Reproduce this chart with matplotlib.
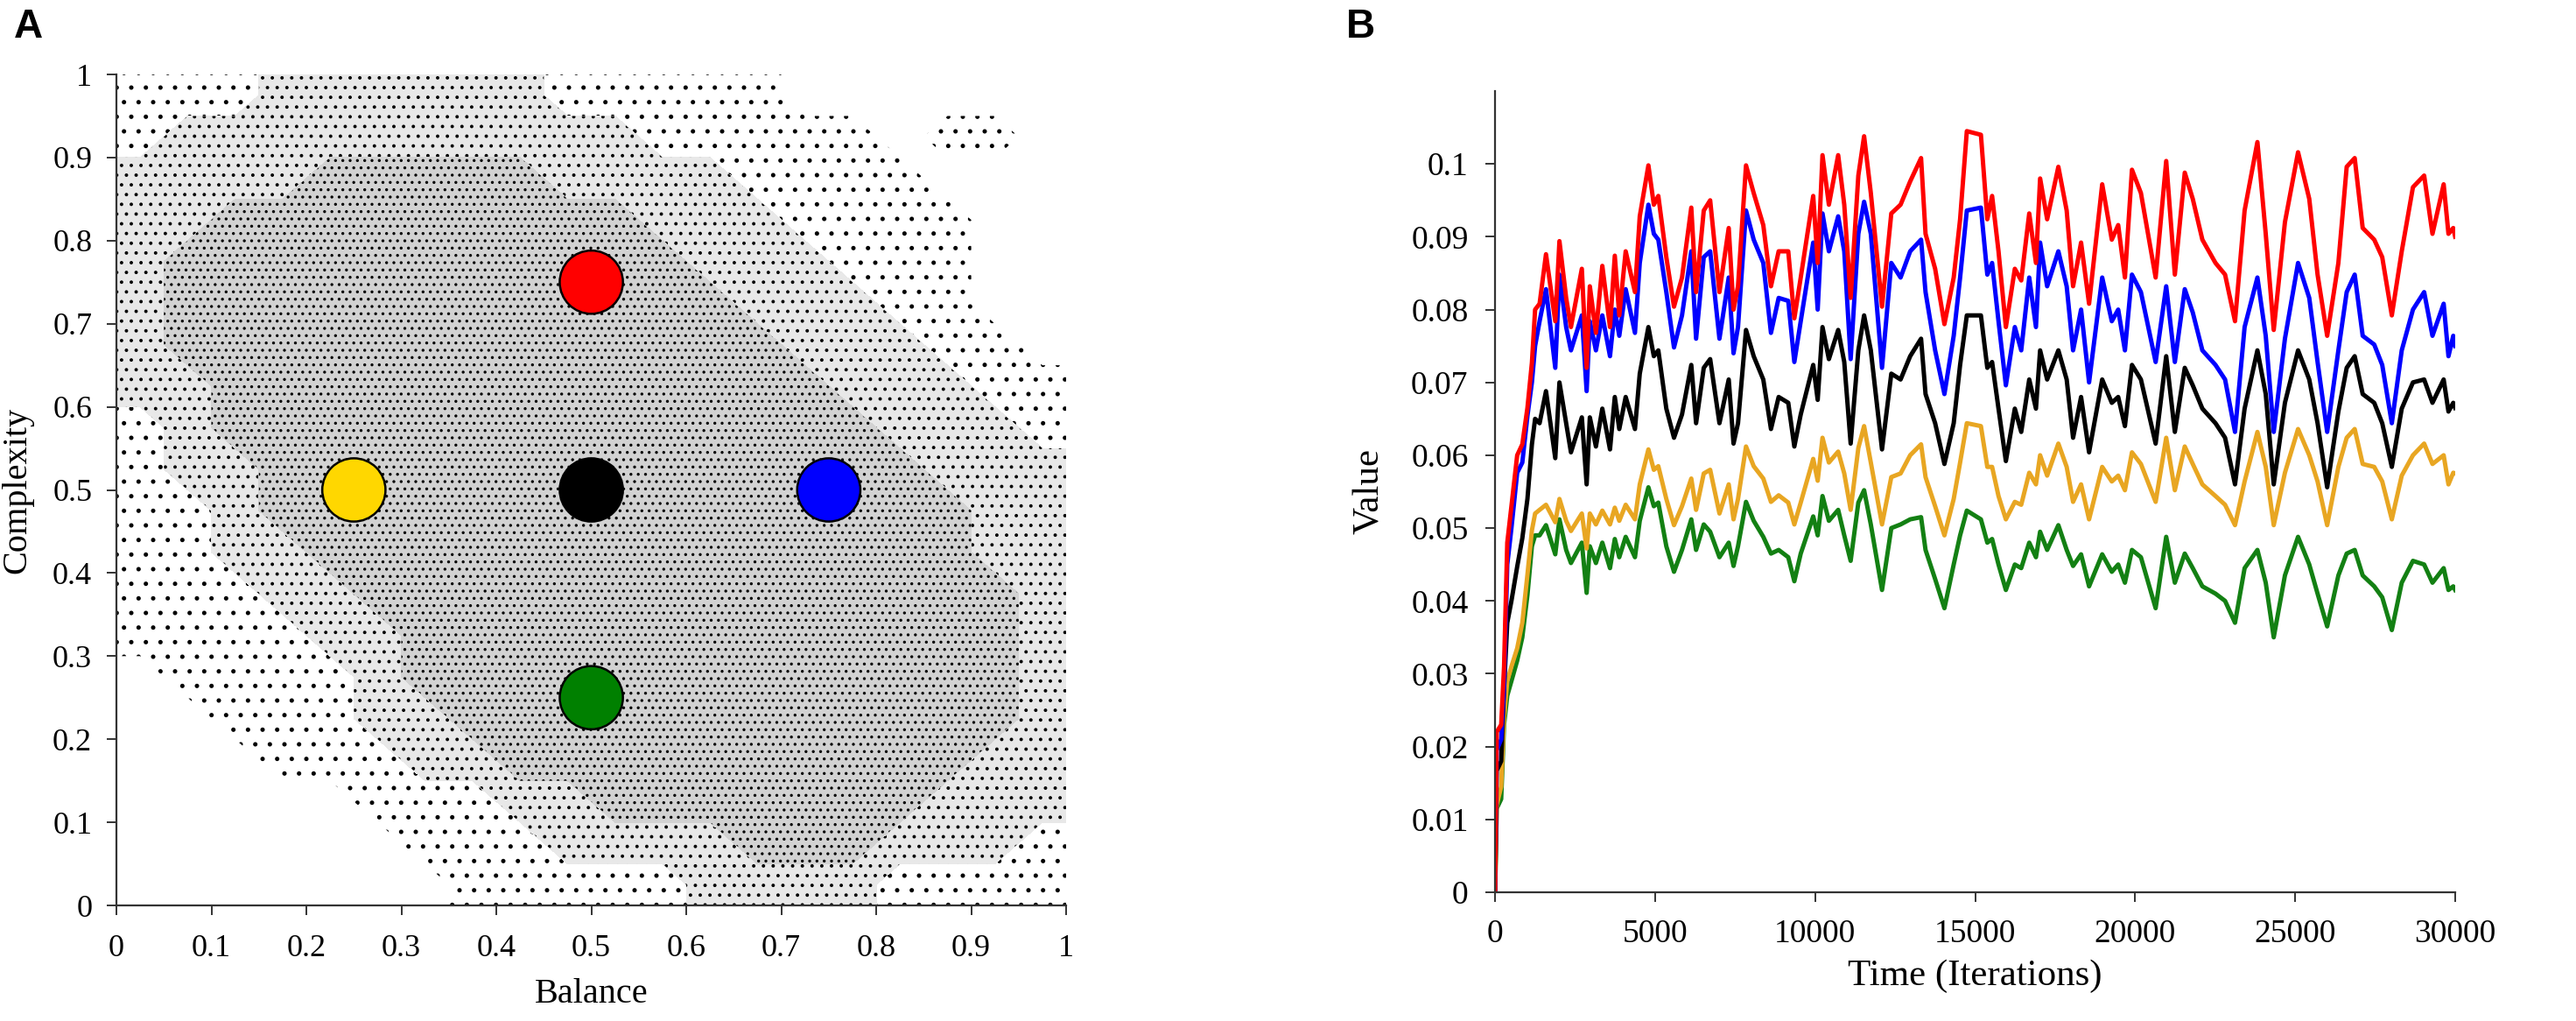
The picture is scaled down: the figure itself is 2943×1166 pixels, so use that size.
import numpy as np
import matplotlib
matplotlib.use("Agg")
from matplotlib import pyplot as plt

plt.rcParams['font.family'] = ['Liberation Serif', 'DejaVu Serif']
plt.rcParams['hatch.color'] = 'black'
plt.rcParams['hatch.linewidth'] = 0.6

# ---- panel A: point cloud, read off as a density per 0.05 x 0.05 cell ----
# 0 = empty, 1 = loose points, 2 = patchy grey, 3 = dense grey
cloud_x = np.arange(0.025, 1.0, 0.05)
cloud_y = np.arange(0.975, 0.0, -0.05)  # first row is the top of the plot
cloud_rows = [
    "11122222211111000000",
    "12222222222111110110",
    "22223333322221111000",
    "22333333333222111100",
    "23333333333322211100",
    "23333333333332221100",
    "23333333333333222110",
    "22333333333333322211",
    "12333333333333332221",
    "12233333333333333222",
    "11233333333333333322",
    "11223333333333333322",
    "11122333333333333332",
    "11112233333333333332",
    "01111233333333333332",
    "00111223333333333332",
    "00011122333333333322",
    "00000111223333333222",
    "00000011122223332221",
    "00000001111122221111",
]

balance_pts = [0.5, 0.25, 0.5, 0.75, 0.5]
complexity_pts = [0.75, 0.5, 0.5, 0.5, 0.25]
pt_colors = ['#ff0000', '#ffd700', '#000000', '#0000ff', '#008000']

# ---- panel B: time series ----
time_it = [0, 50, 190, 280, 380, 510, 690, 850, 1010, 1150, 1250,
           1390, 1590, 1880, 2010, 2220, 2370, 2710, 2860, 2960, 3150,
           3350, 3590, 3740, 3880, 4080, 4370, 4520, 4790, 4960, 5100,
           5350, 5590, 5840, 6130, 6280, 6520, 6720, 7010, 7300, 7450,
           7590, 7840, 8080, 8380, 8620, 8860, 9160, 9350, 9550, 9940,
           10080, 10230, 10430, 10720, 10910, 11110, 11350, 11530, 11740, 12090,
           12380, 12670, 12970, 13310, 13450, 13750, 14040, 14330, 14530, 14740,
           15180, 15380, 15530, 15730, 15960, 16240, 16440, 16690, 16900, 17030,
           17250, 17600, 17860, 18060, 18310, 18560, 18970, 19270, 19470, 19680,
           19900, 20180, 20640, 20970, 21240, 21550, 21800, 22100, 22510, 22810,
           23120, 23420, 23820, 24080, 24330, 24680, 25090, 25440, 25700, 26000,
           26350, 26610, 26860, 27110, 27470, 27720, 28020, 28330, 28680, 29030,
           29290, 29640, 29790, 29940, 30000]

red_vals = [0, 0.022, 0.023, 0.031, 0.048, 0.053, 0.060, 0.0615, 0.0665, 0.0727, 0.080,
            0.0808, 0.0876, 0.0784, 0.0894, 0.0816, 0.0776, 0.0856, 0.0720, 0.0832, 0.0768,
            0.0860, 0.0776, 0.0874, 0.0792, 0.0880, 0.0824, 0.0928, 0.0998, 0.0944, 0.0956,
            0.0872, 0.0804, 0.0844, 0.0940, 0.0824, 0.0936, 0.0950, 0.0824, 0.0912, 0.0800,
            0.0832, 0.0998, 0.0960, 0.0916, 0.0832, 0.0880, 0.0880, 0.0788, 0.0844, 0.0956,
            0.0864, 0.1012, 0.0944, 0.1012, 0.0944, 0.0816, 0.0984, 0.1038, 0.0960, 0.0804,
            0.0932, 0.0944, 0.0976, 0.1008, 0.0904, 0.0856, 0.0780, 0.0844, 0.0924, 0.1045,
            0.1040, 0.0924, 0.0956, 0.0880, 0.0776, 0.0856, 0.0840, 0.0932, 0.0864, 0.0980,
            0.0924, 0.0996, 0.0936, 0.0832, 0.0892, 0.0808, 0.0972, 0.0896, 0.0916, 0.0844,
            0.0992, 0.0960, 0.0844, 0.1004, 0.0848, 0.0988, 0.0952, 0.0896, 0.0864, 0.0848,
            0.0784, 0.0936, 0.1030, 0.0904, 0.0772, 0.0920, 0.1016, 0.0952, 0.0848, 0.0764,
            0.0864, 0.0996, 0.1008, 0.0912, 0.0896, 0.0872, 0.0792, 0.0880, 0.0968, 0.0984,
            0.0904, 0.0972, 0.0904, 0.0912, 0.0900]

blue_vals = [0, 0.0195, 0.021, 0.028, 0.045, 0.050, 0.0576, 0.059, 0.0654, 0.070, 0.075,
             0.0784, 0.0828, 0.0720, 0.0848, 0.0776, 0.0744, 0.0792, 0.0688, 0.0784, 0.0744,
             0.0792, 0.0736, 0.0800, 0.0764, 0.0828, 0.0768, 0.0864, 0.0944, 0.0904, 0.0896,
             0.0824, 0.0748, 0.0792, 0.0880, 0.0760, 0.0872, 0.0880, 0.0760, 0.0844, 0.0740,
             0.0776, 0.0936, 0.0896, 0.0864, 0.0768, 0.0816, 0.0812, 0.0728, 0.0784, 0.0892,
             0.0800, 0.0932, 0.0880, 0.0928, 0.0880, 0.0732, 0.0904, 0.0948, 0.0904, 0.0720,
             0.0864, 0.0844, 0.0880, 0.0896, 0.0824, 0.0744, 0.0684, 0.0764, 0.0844, 0.0936,
             0.0940, 0.0848, 0.0864, 0.0784, 0.0696, 0.0776, 0.0744, 0.0844, 0.0776, 0.0892,
             0.0832, 0.0880, 0.0832, 0.0744, 0.0800, 0.0700, 0.0844, 0.0784, 0.0800, 0.0744,
             0.0848, 0.0824, 0.0728, 0.0832, 0.0728, 0.0828, 0.0796, 0.0744, 0.0724, 0.0704,
             0.0632, 0.0776, 0.0844, 0.0764, 0.0632, 0.0760, 0.0864, 0.0816, 0.0728, 0.0632,
             0.0744, 0.0824, 0.0848, 0.0764, 0.0752, 0.0724, 0.0644, 0.0744, 0.0800, 0.0824,
             0.0764, 0.0808, 0.0736, 0.0764, 0.0750]

black_vals = [0, 0.0167, 0.018, 0.028, 0.037, 0.040, 0.0447, 0.0486, 0.054, 0.0615, 0.065,
              0.0644, 0.0688, 0.0596, 0.0700, 0.0644, 0.0604, 0.0652, 0.0560, 0.0652, 0.0612,
              0.0664, 0.0608, 0.0680, 0.0636, 0.0680, 0.0636, 0.0712, 0.0776, 0.0736, 0.0744,
              0.0664, 0.0624, 0.0656, 0.0724, 0.0644, 0.0720, 0.0732, 0.0644, 0.0704, 0.0616,
              0.0644, 0.0772, 0.0736, 0.0704, 0.0636, 0.0680, 0.0672, 0.0612, 0.0656, 0.0724,
              0.0676, 0.0776, 0.0732, 0.0772, 0.0728, 0.0616, 0.0744, 0.0792, 0.0744, 0.0608,
              0.0712, 0.0704, 0.0736, 0.0760, 0.0684, 0.0644, 0.0588, 0.0644, 0.0724, 0.0792,
              0.0792, 0.0720, 0.0728, 0.0664, 0.0592, 0.0664, 0.0632, 0.0704, 0.0664, 0.0744,
              0.0704, 0.0744, 0.0704, 0.0624, 0.0680, 0.0604, 0.0704, 0.0672, 0.0680, 0.0640,
              0.0724, 0.0704, 0.0616, 0.0736, 0.0632, 0.0720, 0.0696, 0.0664, 0.0644, 0.0624,
              0.0560, 0.0664, 0.0744, 0.0684, 0.0560, 0.0672, 0.0744, 0.0704, 0.0644, 0.0556,
              0.0660, 0.0720, 0.0736, 0.0684, 0.0672, 0.0644, 0.0584, 0.0664, 0.0700, 0.0704,
              0.0672, 0.0704, 0.0660, 0.0672, 0.0665]

orange_vals = [0, 0.012, 0.0145, 0.024, 0.029, 0.031, 0.0335, 0.037, 0.0436, 0.0497, 0.052,
               0.0525, 0.0532, 0.0508, 0.0540, 0.0510, 0.0496, 0.0520, 0.0472, 0.0520, 0.0505,
               0.0524, 0.0505, 0.0528, 0.0510, 0.0532, 0.0512, 0.0560, 0.0608, 0.0580, 0.0585,
               0.0540, 0.0504, 0.0530, 0.0568, 0.0525, 0.0575, 0.0580, 0.0520, 0.0560, 0.0512,
               0.0540, 0.0612, 0.0585, 0.0568, 0.0536, 0.0545, 0.0535, 0.0505, 0.0535, 0.0595,
               0.0565, 0.0624, 0.0590, 0.0605, 0.0575, 0.0525, 0.0610, 0.0640, 0.0590, 0.0505,
               0.0570, 0.0575, 0.0600, 0.0615, 0.0570, 0.0530, 0.0490, 0.0540, 0.0590, 0.0644,
               0.0640, 0.0584, 0.0584, 0.0544, 0.0512, 0.0536, 0.0532, 0.0576, 0.0560, 0.0600,
               0.0572, 0.0616, 0.0584, 0.0536, 0.0560, 0.0512, 0.0584, 0.0564, 0.0572, 0.0552,
               0.0604, 0.0588, 0.0536, 0.0624, 0.0552, 0.0612, 0.0588, 0.0560, 0.0544, 0.0532,
               0.0504, 0.0564, 0.0632, 0.0584, 0.0504, 0.0576, 0.0636, 0.0600, 0.0564, 0.0504,
               0.0584, 0.0624, 0.0636, 0.0588, 0.0584, 0.0564, 0.0512, 0.0572, 0.0600, 0.0616,
               0.0588, 0.0600, 0.0560, 0.0576, 0.0575]

green_vals = [0, 0.0115, 0.0128, 0.023, 0.027, 0.029, 0.0318, 0.035, 0.0408, 0.0475, 0.049,
              0.0490, 0.0504, 0.0464, 0.0512, 0.0470, 0.0452, 0.0480, 0.0411, 0.0475, 0.0452,
              0.0480, 0.0445, 0.0485, 0.0460, 0.0488, 0.0460, 0.0510, 0.0556, 0.0530, 0.0535,
              0.0475, 0.0440, 0.0470, 0.0512, 0.0470, 0.0505, 0.0495, 0.0460, 0.0480, 0.0448,
              0.0475, 0.0536, 0.0510, 0.0488, 0.0465, 0.0470, 0.0460, 0.0427, 0.0465, 0.0516,
              0.0490, 0.0544, 0.0510, 0.0525, 0.0490, 0.0455, 0.0535, 0.0552, 0.0505, 0.0415,
              0.0500, 0.0505, 0.0512, 0.0515, 0.0470, 0.0430, 0.0390, 0.0450, 0.0490, 0.0524,
              0.0512, 0.0480, 0.0485, 0.0450, 0.0415, 0.0450, 0.0445, 0.0480, 0.0460, 0.0495,
              0.0470, 0.0504, 0.0470, 0.0448, 0.0464, 0.0420, 0.0464, 0.0440, 0.0450, 0.0425,
              0.0470, 0.0460, 0.0390, 0.0488, 0.0425, 0.0465, 0.0445, 0.0420, 0.0410, 0.0400,
              0.0370, 0.0445, 0.0470, 0.0425, 0.0350, 0.0435, 0.0488, 0.0450, 0.0410, 0.0365,
              0.0435, 0.0465, 0.0470, 0.0435, 0.0420, 0.0405, 0.0360, 0.0425, 0.0455, 0.0450,
              0.0425, 0.0445, 0.0415, 0.0420, 0.0415]

series = [
    (green_vals, '#138013'),
    (orange_vals, '#e8a622'),
    (black_vals, '#000000'),
    (blue_vals, '#0000ff'),
    (red_vals, '#ff0000'),
]

x_tick_labels_a = ['0', '0.1', '0.2', '0.3', '0.4', '0.5', '0.6', '0.7', '0.8', '0.9', '1']
y_tick_labels_b = ['0', '0.01', '0.02', '0.03', '0.04', '0.05', '0.06', '0.07', '0.08', '0.09', '0.1']
x_ticks_b = [0, 5000, 10000, 15000, 20000, 25000, 30000]


def style_axes(ax, tick_size):
    for side in ['top', 'right']:
        ax.spines[side].set_visible(False)
    for side in ['left', 'bottom']:
        ax.spines[side].set_linewidth(0.8)
        ax.spines[side].set_color('#333333')
    ax.tick_params(direction='out', length=4, width=0.7, color='#333333',
                   labelsize=tick_size)


fig = plt.figure(figsize=(2943 / 200, 1166 / 200), dpi=200)

# panel A
ax1 = fig.add_axes([0.0452, 0.1132, 0.3687, 0.8139])
dens = np.array([[int(c) for c in row] for row in cloud_rows], dtype=float)[::-1]
gx = np.concatenate([[0.0], cloud_x, [1.0]])
gy = np.concatenate([[0.0], cloud_y[::-1], [1.0]])
dens = np.pad(dens, 1, mode='edge')
ax1.contourf(gx, gy, dens, levels=[0.5, 1.5, 2.5, 3.5],
             colors=['white', '#e8e8e8', '#d2d2d2'],
             hatches=['..', '...', '....'])
ax1.scatter(balance_pts, complexity_pts, s=26 ** 2, c=pt_colors,
            edgecolors='black', linewidths=0.9, zorder=3)
ax1.set_xlim(0, 1)
ax1.set_ylim(0, 1)
ax1.set_xticks(np.linspace(0, 1, 11))
ax1.set_xticklabels(x_tick_labels_a)
ax1.set_yticks(np.linspace(0, 1, 11))
ax1.set_yticklabels(x_tick_labels_a)
style_axes(ax1, 13)
ax1.tick_params(axis='x', pad=8)
ax1.tick_params(axis='y', pad=6)
ax1.set_xlabel('Balance', fontsize=14.5, labelpad=6)
ax1.set_ylabel('Complexity', fontsize=14.5, labelpad=8)

# panel B
ax2 = fig.add_axes([0.5804, 0.1261, 0.3727, 0.7847])
for vals, col in series:
    ax2.plot(time_it, vals, color=col, linewidth=1.8)
ax2.set_xlim(0, 30000)
ax2.set_ylim(0, 0.11)
ax2.set_xticks(x_ticks_b)
ax2.set_xticklabels([str(v) for v in x_ticks_b])
ax2.set_yticks(np.linspace(0, 0.1, 11))
ax2.set_yticklabels(y_tick_labels_b)
style_axes(ax2, 13.5)
ax2.tick_params(axis='x', pad=7)
ax2.tick_params(axis='y', pad=7)
ax2.set_xlabel('Time (Iterations)', fontsize=15.5, labelpad=4)
ax2.set_ylabel('Value', fontsize=15.5, labelpad=10)

fig.text(0.0054, 0.9631, 'A', fontsize=16.5, fontweight='bold',
         family=['Liberation Sans', 'DejaVu Sans'], va='baseline')
fig.text(0.5226, 0.9631, 'B', fontsize=16.5, fontweight='bold',
         family=['Liberation Sans', 'DejaVu Sans'], va='baseline')

fig.savefig('out.png', dpi=200)
